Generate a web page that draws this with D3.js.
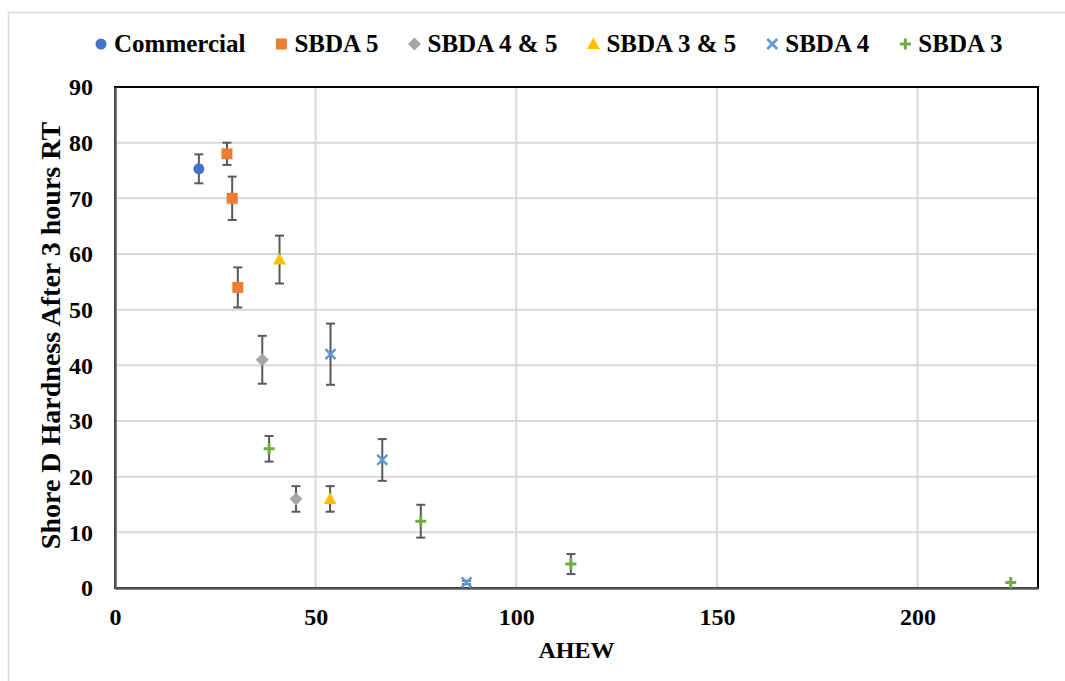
<!DOCTYPE html>
<html lang="en">
<head>
<meta charset="utf-8">
<title>Shore D Hardness vs AHEW</title>
<style>
  body { margin: 0; background: #fff; }
  svg text { font-family: "Liberation Serif", "Times New Roman", serif; font-weight: bold; fill: #000; }
</style>
</head>
<body>
<div id="chart"></div>
<script src="https://cdnjs.cloudflare.com/ajax/libs/d3/7.8.5/d3.min.js"></script>
<script>
// series names, marker shapes and colours
var seriesNames = ["Commercial", "SBDA 5", "SBDA 4 & 5", "SBDA 3 & 5", "SBDA 4", "SBDA 3"];
var seriesShapes = ["circle", "square", "diamond", "triangle", "cross", "plus"];
var seriesColors = ["#4472C4", "#ED7D31", "#A5A5A5", "#FFC000", "#5B9BD5", "#70AD47"];

// AHEW (x), hardness (y) and error (+/-) per series
var ahew = [
  [20.9],
  [27.9, 29.2, 30.6],
  [36.7, 45.1],
  [41.0, 53.6],
  [53.7, 66.6, 87.6],
  [38.4, 76.2, 113.6, 223.2]
];
var hardness = [
  [75.3],
  [78, 70, 54],
  [41, 16],
  [59, 16],
  [42, 23, 1],
  [25, 12, 4.3, 1]
];
var errors = [
  [2.6],
  [2.0, 3.9, 3.6],
  [4.3, 2.3],
  [4.3, 2.3],
  [5.5, 3.75, 0.3],
  [2.3, 2.95, 1.8, 0]
];

var xTicks = [0, 50, 100, 150, 200];
var yTicks = [0, 10, 20, 30, 40, 50, 60, 70, 80, 90];

var w = 1065, h = 681;
var plotLeft = 115, plotRight = 1038, plotTop = 87, plotBottom = 588;

var svg = d3.select("#chart").append("svg")
  .attr("width", w)
  .attr("height", h);

// outer chart frame
svg.append("rect")
  .attr("x", 8.5).attr("y", 12.5)
  .attr("width", 1200).attr("height", 800)
  .attr("fill", "none")
  .attr("stroke", "#d9d9d9")
  .attr("stroke-width", 1.5);

var xScale = d3.scaleLinear().domain([0, 230]).range([plotLeft, plotRight]);
var yScale = d3.scaleLinear().domain([0, 90]).range([plotBottom, plotTop]);

// gridlines
svg.append("g").selectAll("line")
  .data(yTicks.slice(1))
  .enter().append("line")
  .attr("x1", plotLeft).attr("x2", plotRight)
  .attr("y1", function(d) { return yScale(d); })
  .attr("y2", function(d) { return yScale(d); })
  .attr("stroke", "#d9d9d9").attr("stroke-width", 2);

svg.append("g").selectAll("line")
  .data(xTicks.slice(1))
  .enter().append("line")
  .attr("y1", plotTop).attr("y2", plotBottom)
  .attr("x1", function(d) { return xScale(d); })
  .attr("x2", function(d) { return xScale(d); })
  .attr("stroke", "#d9d9d9").attr("stroke-width", 2);

// plot area border
svg.append("rect")
  .attr("x", plotLeft).attr("y", plotTop)
  .attr("width", plotRight - plotLeft).attr("height", plotBottom - plotTop)
  .attr("fill", "none")
  .attr("stroke", "#000")
  .attr("stroke-width", 2);

// axes
var xAxis = d3.axisBottom(xScale).tickValues(xTicks).tickSize(0).tickPadding(20);
var yAxis = d3.axisLeft(yScale).tickValues(yTicks).tickSize(0).tickPadding(22);

var gx = svg.append("g")
  .attr("transform", "translate(0," + plotBottom + ")")
  .call(xAxis);
var gy = svg.append("g")
  .attr("transform", "translate(" + plotLeft + ",0)")
  .call(yAxis);

[gx, gy].forEach(function(g) {
  g.select(".domain").attr("stroke", "#595959").attr("stroke-width", 2.5);
  g.selectAll("text")
    .attr("font-size", 24)
    .attr("font-family", "Liberation Serif, Times New Roman, serif")
    .attr("font-weight", "bold")
    .attr("fill", "#000");
});

// axis titles
svg.append("text")
  .attr("x", (plotLeft + plotRight) / 2)
  .attr("y", 658)
  .attr("text-anchor", "middle")
  .attr("font-size", 24)
  .text("AHEW");

svg.append("text")
  .attr("transform", "translate(60," + ((plotTop + plotBottom) / 2 - 2) + ") rotate(-90)")
  .attr("text-anchor", "middle")
  .attr("font-size", 28)
  .text("Shore D Hardness After 3 hours RT");

// marker drawing
function drawMarker(g, shape, color, x, y) {
  if (shape == "circle") {
    g.append("circle").attr("cx", x).attr("cy", y).attr("r", 5.5).attr("fill", color);
  } else if (shape == "square") {
    g.append("rect").attr("x", x - 5.5).attr("y", y - 5.5).attr("width", 11).attr("height", 11).attr("fill", color);
  } else if (shape == "diamond") {
    g.append("path").attr("d", "M" + x + "," + (y - 6.5) + "L" + (x + 6.5) + "," + y + "L" + x + "," + (y + 6.5) + "L" + (x - 6.5) + "," + y + "Z").attr("fill", color);
  } else if (shape == "triangle") {
    g.append("path").attr("d", "M" + x + "," + (y - 6.5) + "L" + (x + 6.5) + "," + (y + 5) + "L" + (x - 6.5) + "," + (y + 5) + "Z").attr("fill", color);
  } else if (shape == "cross") {
    g.append("path").attr("d", "M" + (x - 5) + "," + (y - 5) + "L" + (x + 5) + "," + (y + 5) + "M" + (x + 5) + "," + (y - 5) + "L" + (x - 5) + "," + (y + 5))
      .attr("stroke", color).attr("stroke-width", 2.5).attr("fill", "none");
  } else if (shape == "plus") {
    g.append("path").attr("d", "M" + (x - 5.5) + "," + y + "L" + (x + 5.5) + "," + y + "M" + x + "," + (y - 5.5) + "L" + x + "," + (y + 5.5))
      .attr("stroke", color).attr("stroke-width", 3).attr("fill", "none");
  }
}

// error bars, then markers
var points = svg.append("g");
for (var s = 0; s < seriesNames.length; s++) {
  for (var i = 0; i < ahew[s].length; i++) {
    if (errors[s][i] <= 0) continue;
    var px = xScale(ahew[s][i]);
    var yTop = yScale(hardness[s][i] + errors[s][i]);
    var yBot = yScale(hardness[s][i] - errors[s][i]);
    var eb = points.append("g").attr("stroke", "#595959").attr("stroke-width", 2);
    eb.append("line").attr("x1", px).attr("x2", px).attr("y1", yTop).attr("y2", yBot);
    eb.append("line").attr("x1", px - 4.5).attr("x2", px + 4.5).attr("y1", yTop).attr("y2", yTop);
    eb.append("line").attr("x1", px - 4.5).attr("x2", px + 4.5).attr("y1", yBot).attr("y2", yBot);
  }
}
for (var s = 0; s < seriesNames.length; s++) {
  for (var i = 0; i < ahew[s].length; i++) {
    drawMarker(points, seriesShapes[s], seriesColors[s], xScale(ahew[s][i]), yScale(hardness[s][i]));
  }
}

// legend
var legend = svg.append("g");
var lx = 101, ly = 44;
for (var s = 0; s < seriesNames.length; s++) {
  drawMarker(legend, seriesShapes[s], seriesColors[s], lx, ly);
  var t = legend.append("text")
    .attr("x", lx + 13)
    .attr("y", ly + 8)
    .attr("font-size", 25)
    .text(seriesNames[s]);
  lx = lx + 13 + t.node().getComputedTextLength() + 36;
}
</script>
</body>
</html>
